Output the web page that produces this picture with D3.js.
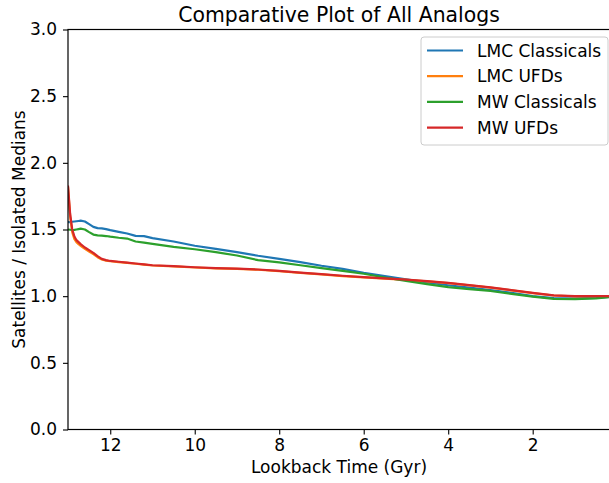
<!DOCTYPE html>
<html>
<head>
<meta charset="utf-8">
<script src="https://cdn.jsdelivr.net/npm/d3@7"></script>
<style>
  body { margin: 0; background: #fff; }
  svg { font-family: "DejaVu Sans", sans-serif; display: block; }
</style>
</head>
<body>
<svg id="chart" width="609" height="483"></svg>
<script>
// lookback time (Gyr) of each sample
const lookback = [13.0, 12.95, 12.9, 12.85, 12.8, 12.75, 12.7, 12.6, 12.5, 12.4, 12.3, 12.2, 12.1, 12.0,
  11.8, 11.6, 11.4, 11.2, 11.0, 10.5, 10.0, 9.5, 9.0, 8.5, 8.0, 7.5, 7.0, 6.5, 6.0, 5.5, 5.0,
  4.5, 4.0, 3.5, 3.0, 2.5, 2.0, 1.5, 1.0, 0.5, 0.17];

const lmcClassicals = [1.555, 1.556, 1.558, 1.56, 1.562, 1.564, 1.566, 1.56, 1.54, 1.52, 1.51, 1.508, 1.503, 1.495,
  1.482, 1.47, 1.452, 1.45, 1.435, 1.41, 1.378, 1.355, 1.33, 1.303, 1.28, 1.255, 1.228, 1.205, 1.175, 1.15, 1.127,
  1.103, 1.082, 1.064, 1.046, 1.025, 1.0, 0.985, 0.983, 0.987, 0.995];

const lmcUfds = [1.82, 1.60, 1.48, 1.43, 1.405, 1.39, 1.378, 1.355, 1.335, 1.315, 1.292, 1.275, 1.266, 1.262,
  1.256, 1.249, 1.243, 1.236, 1.23, 1.223, 1.215, 1.209, 1.204, 1.198, 1.188, 1.175, 1.163, 1.151, 1.141, 1.132, 1.122,
  1.111, 1.098, 1.081, 1.064, 1.043, 1.023, 1.005, 0.999, 0.999, 0.999];

const mwClassicals = [1.50, 1.498, 1.496, 1.497, 1.50, 1.503, 1.506, 1.50, 1.48, 1.462, 1.456, 1.454, 1.451, 1.446,
  1.438, 1.432, 1.41, 1.402, 1.392, 1.37, 1.352, 1.33, 1.305, 1.27, 1.253, 1.232, 1.21, 1.19, 1.168, 1.14, 1.115,
  1.09, 1.068, 1.053, 1.039, 1.017, 0.997, 0.979, 0.978, 0.983, 0.993];

const mwUfds = [1.83, 1.62, 1.50, 1.45, 1.42, 1.405, 1.39, 1.365, 1.345, 1.325, 1.30, 1.28, 1.27, 1.264,
  1.258, 1.251, 1.245, 1.238, 1.232, 1.225, 1.217, 1.211, 1.206, 1.20, 1.19, 1.177, 1.165, 1.153, 1.143, 1.134, 1.124,
  1.113, 1.10, 1.083, 1.066, 1.045, 1.025, 1.006, 1.0, 1.0, 1.0];

const seriesNames = ["LMC Classicals", "LMC UFDs", "MW Classicals", "MW UFDs"];
const seriesValues = [lmcClassicals, lmcUfds, mwClassicals, mwUfds];
const colors = ["#1f77b4", "#ff7f0e", "#2ca02c", "#d62728"];
const xTicks = [12, 10, 8, 6, 4, 2];
const yTicks = [0, 0.5, 1.0, 1.5, 2.0, 2.5, 3.0];

const svg = d3.select("#chart");
const m = {left: 68, right: 610, top: 29.5, bottom: 429.5};
const fs = 17;

const x = d3.scaleLinear().domain([13.0, 0.17]).range([m.left, m.right]);
const y = d3.scaleLinear().domain([0, 3]).range([m.bottom, m.top]);

svg.append("clipPath").attr("id", "plotclip")
  .append("rect").attr("x", m.left).attr("y", m.top)
  .attr("width", m.right - m.left).attr("height", m.bottom - m.top);

const line = d3.line()
  .x(d => x(d[0]))
  .y(d => y(d[1]));

const plot = svg.append("g").attr("clip-path", "url(#plotclip)");
seriesValues.forEach((vals, i) => {
  plot.append("path")
    .datum(lookback.map((t, j) => [t, vals[j]]))
    .attr("d", line)
    .attr("fill", "none")
    .attr("stroke", colors[i])
    .attr("stroke-width", 2.2)
    .attr("stroke-linejoin", "round");
});

// axes
const xAxis = svg.append("g")
  .attr("transform", `translate(0,${m.bottom})`)
  .call(d3.axisBottom(x).tickValues(xTicks).tickFormat(d3.format("d")).tickSize(5).tickPadding(4.5));
const yAxis = svg.append("g")
  .attr("transform", `translate(${m.left},0)`)
  .call(d3.axisLeft(y).tickValues(yTicks).tickFormat(d3.format(".1f")).tickSize(5).tickPadding(6));

[xAxis, yAxis].forEach(a => {
  a.select(".domain").remove();
  a.selectAll("text").attr("font-size", fs).attr("fill", "#000").attr("font-family", "DejaVu Sans");
  a.selectAll("line").attr("stroke", "#000").attr("stroke-width", 1.1);
});

// frame
svg.append("rect")
  .attr("x", m.left).attr("y", m.top)
  .attr("width", m.right - m.left).attr("height", m.bottom - m.top)
  .attr("fill", "none").attr("stroke", "#000").attr("stroke-width", 1.2);

svg.append("text")
  .attr("x", (m.left + m.right) / 2).attr("y", 22)
  .attr("text-anchor", "middle").attr("font-size", fs * 1.2)
  .text("Comparative Plot of All Analogs");

svg.append("text")
  .attr("x", (m.left + m.right) / 2).attr("y", 473)
  .attr("text-anchor", "middle").attr("font-size", fs)
  .text("Lookback Time (Gyr)");

svg.append("text")
  .attr("transform", `translate(25,${(m.top + m.bottom) / 2}) rotate(-90)`)
  .attr("text-anchor", "middle").attr("font-size", fs)
  .text("Satellites / Isolated Medians");

// legend
const lg = svg.append("g").attr("transform", "translate(421,37)");
lg.append("rect")
  .attr("width", 187).attr("height", 108).attr("rx", 3)
  .attr("fill", "#fff").attr("fill-opacity", 0.8)
  .attr("stroke", "#ccc").attr("stroke-width", 1);
seriesNames.forEach((name, i) => {
  const yy = 13.5 + i * 25.7;
  lg.append("line")
    .attr("x1", 6).attr("x2", 42).attr("y1", yy).attr("y2", yy)
    .attr("stroke", colors[i]).attr("stroke-width", 2.2);
  lg.append("text")
    .attr("x", 56).attr("y", yy).attr("dy", "0.36em")
    .attr("font-size", fs)
    .text(name);
});
</script>
</body>
</html>
